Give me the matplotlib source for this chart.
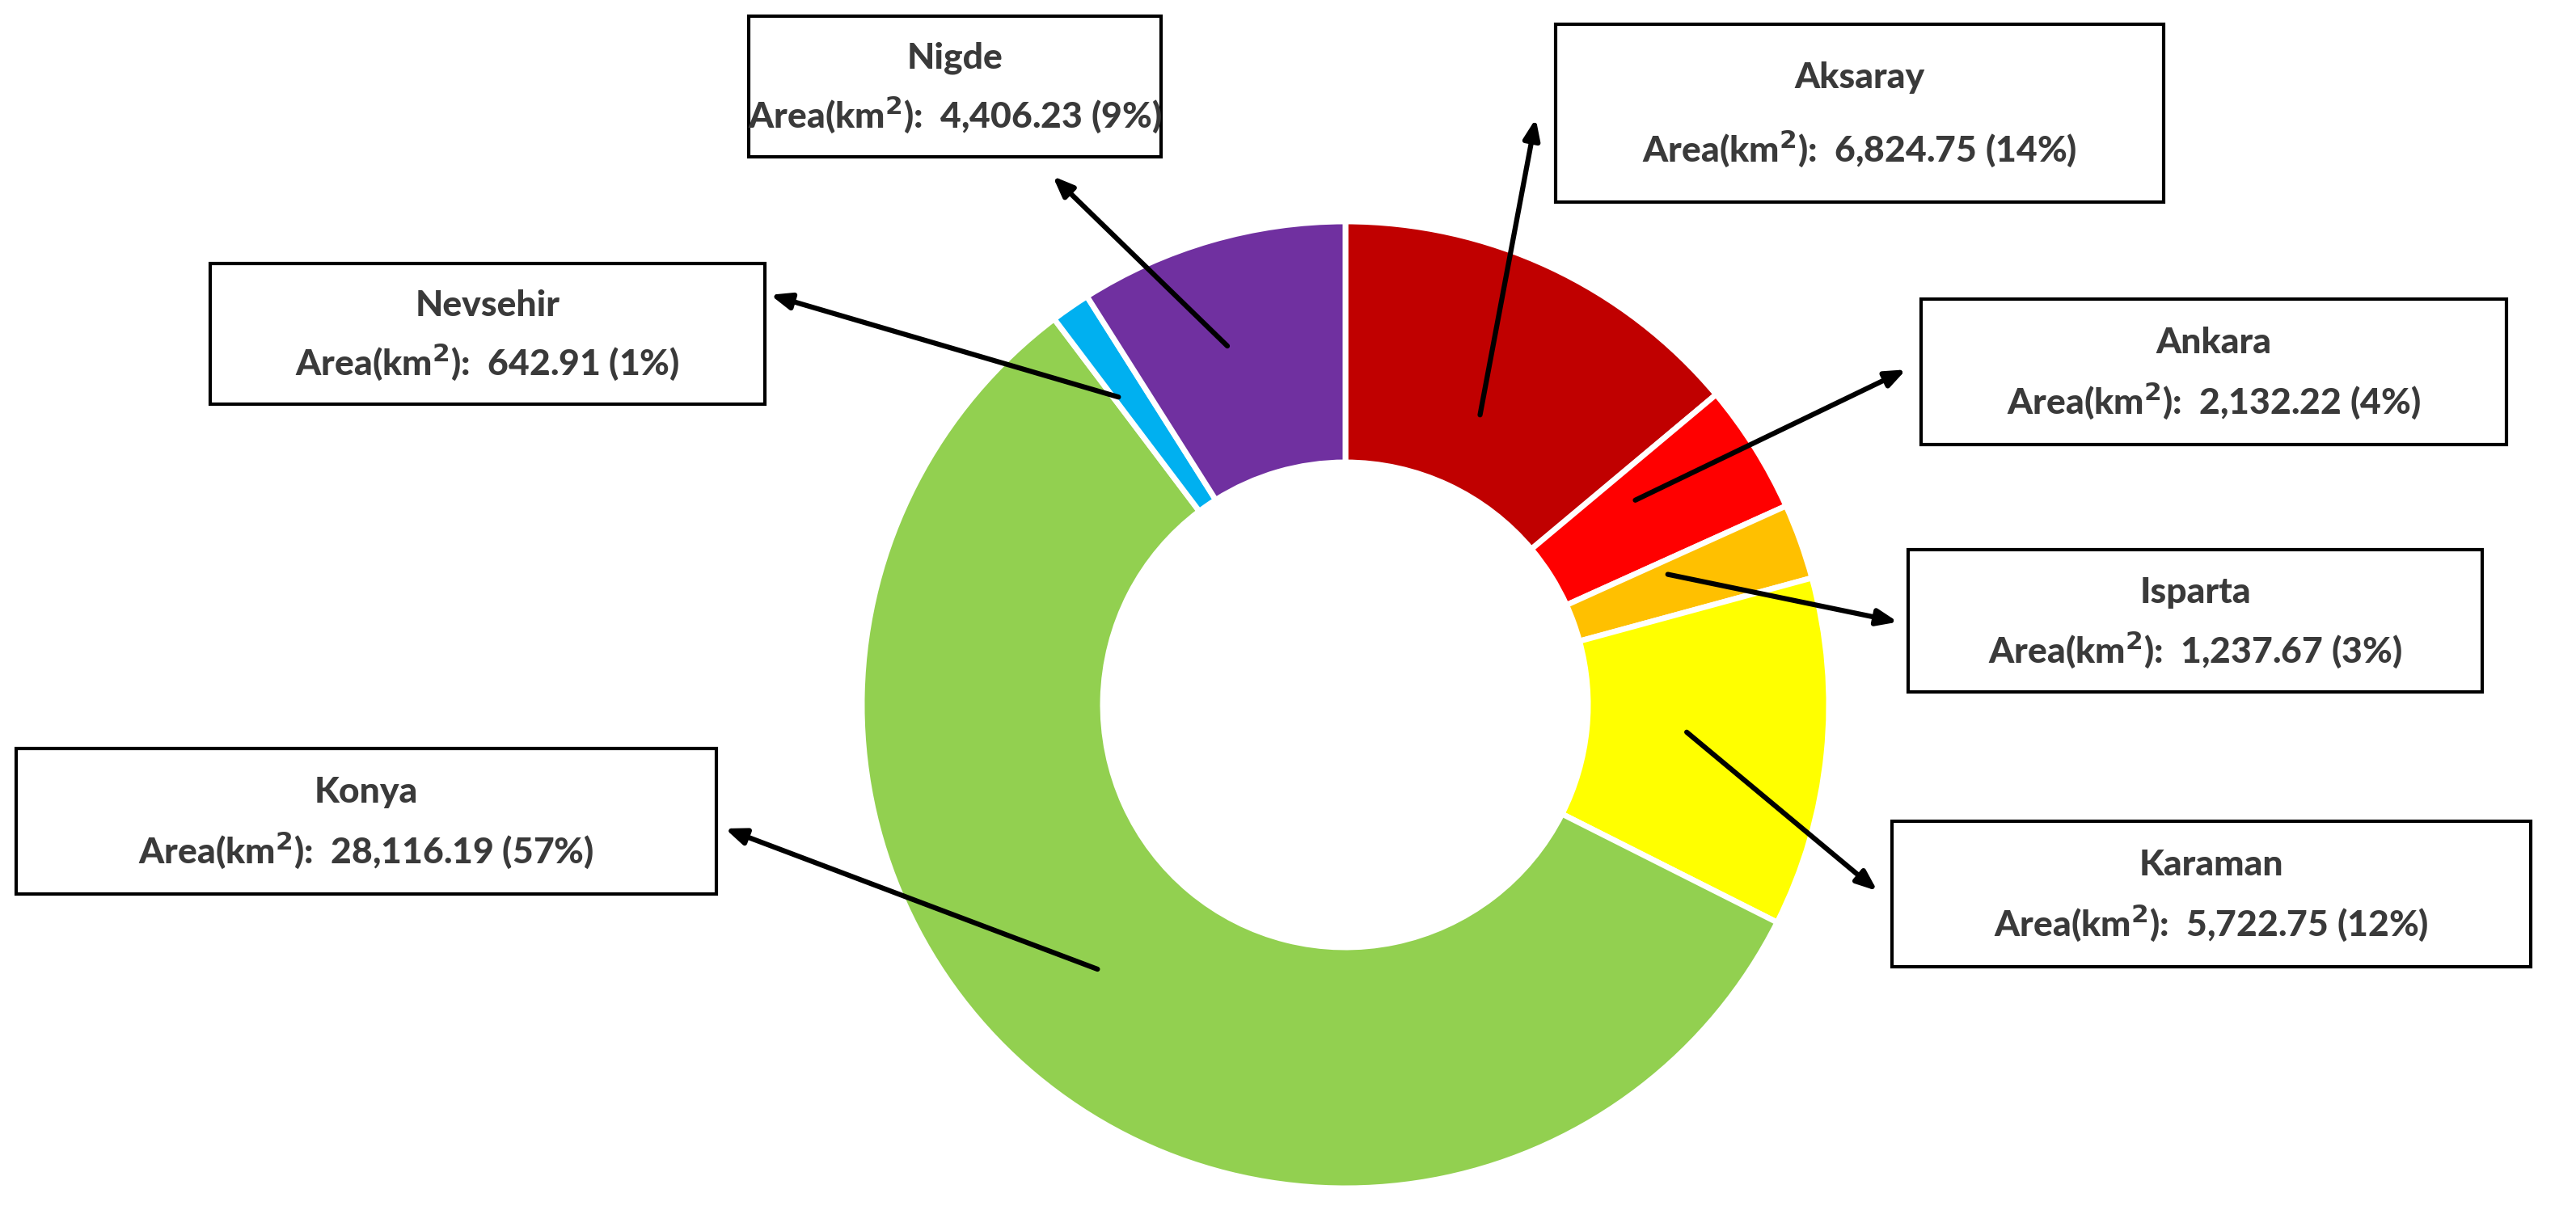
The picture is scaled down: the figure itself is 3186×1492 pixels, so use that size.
import matplotlib.pyplot as plt

W, H = 3186, 1492

regions = ['Aksaray', 'Ankara', 'Isparta', 'Karaman', 'Konya', 'Nevsehir', 'Nigde']
areas = [6824.75, 2132.22, 1237.67, 5722.75, 28116.19, 642.91, 4406.23]
percents = [14, 4, 3, 12, 57, 1, 9]
colors = ['#C00000', '#FF0000', '#FFC000', '#FFFF00', '#92D050', '#00B0F0', '#7030A0']

# label box centres and arrow (tail in wedge, head at box) in image pixels
box_centres = [(2300, 140), (2738, 460), (2715, 768), (2735, 1106), (453, 1016), (603, 413), (1181, 107)]
box_sizes = [(752, 220), (724, 180), (710, 176), (790, 180), (866, 180), (686, 174), (510, 174)]
arrow_from = [(1830, 516), (2020, 620), (2060, 710), (2084, 904), (1360, 1200), (1386, 492), (1520, 430)]
arrow_to = [(1900, 144), (2360, 456), (2350, 770), (2324, 1104), (894, 1024), (950, 364), (1300, 216)]

fig = plt.figure(figsize=(W / 100, H / 100), dpi=100)
ax = fig.add_axes([0, 0, 1, 1])

ax.pie(areas, colors=colors, startangle=90, counterclock=False,
       center=(1664, H - 872), radius=598, frame=True,
       wedgeprops=dict(width=298, edgecolor='white', linewidth=5))
ax.set_xlim(0, W)
ax.set_ylim(0, H)
ax.set_aspect('equal')
ax.axis('off')

for name, a, p, (cx, cy), (bw, bh), f, t in zip(regions, areas, percents, box_centres,
                                                box_sizes, arrow_from, arrow_to):
    ax.add_patch(plt.Rectangle((cx - bw / 2, H - cy - bh / 2), bw, bh, facecolor='white',
                               edgecolor='black', linewidth=3, zorder=3))
    ax.text(cx, H - cy + bh * 0.2, name, ha='center', va='center', fontsize=32,
            fontweight='black', color='#3A3A3A', family='Lato', zorder=4)
    ax.text(cx, H - cy - bh * 0.2, r'Area(km$^{\mathbf{2}}$):  ' + f'{a:,.2f} ({p}%)',
            ha='center', va='center', fontsize=32, fontweight='black', color='#3A3A3A',
            family='Lato', zorder=4)
    ax.annotate('', xy=(t[0], H - t[1]), xytext=(f[0], H - f[1]), zorder=5,
                arrowprops=dict(arrowstyle='-|>,head_length=1.5,head_width=0.6',
                                color='black', lw=4.5))

fig.savefig('out.png', dpi=100)
